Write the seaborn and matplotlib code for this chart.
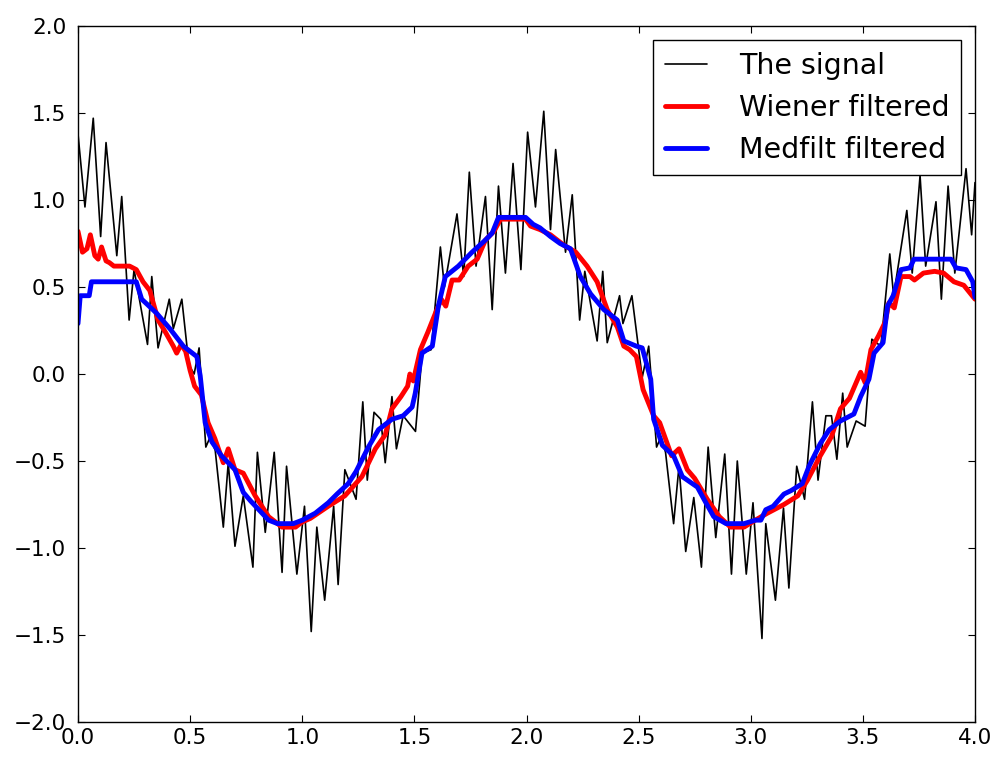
import matplotlib
matplotlib.use("Agg")
import matplotlib.pyplot as plt
import seaborn as sns
import numpy as np

# --- data ---
signal_t = [0.000, 0.031, 0.068, 0.101, 0.125, 0.173, 0.195, 0.228, 0.250, 0.310,
            0.329, 0.357, 0.407, 0.425, 0.463, 0.495, 0.518, 0.540, 0.570, 0.590,
            0.612, 0.648, 0.670, 0.700, 0.737, 0.780, 0.800, 0.835, 0.875, 0.910,
            0.930, 0.976, 1.010, 1.040, 1.065, 1.100, 1.140, 1.160, 1.190, 1.240,
            1.270, 1.290, 1.320, 1.350, 1.370, 1.400, 1.420, 1.450, 1.505, 1.535,
            1.575, 1.616, 1.634, 1.690, 1.720, 1.745, 1.775, 1.817, 1.847, 1.875,
            1.906, 1.940, 1.975, 2.005, 2.040, 2.077, 2.107, 2.130, 2.174, 2.204,
            2.237, 2.260, 2.315, 2.340, 2.360, 2.415, 2.430, 2.470, 2.516, 2.545,
            2.580, 2.600, 2.620, 2.656, 2.680, 2.710, 2.746, 2.780, 2.810, 2.844,
            2.884, 2.914, 2.940, 2.980, 3.010, 3.050, 3.067, 3.110, 3.146, 3.170,
            3.205, 3.240, 3.275, 3.300, 3.335, 3.360, 3.384, 3.410, 3.430, 3.470,
            3.510, 3.540, 3.580, 3.620, 3.637, 3.696, 3.720, 3.755, 3.780, 3.826,
            3.850, 3.880, 3.910, 3.960, 3.985, 4.000]
signal_y = [1.38, 0.96, 1.47, 0.79, 1.33, 0.68, 1.02, 0.31, 0.60, 0.17,
            0.56, 0.15, 0.43, 0.26, 0.43, 0.05, 0.00, 0.15, -0.42, -0.36,
            -0.44, -0.88, -0.51, -0.99, -0.70, -1.11, -0.45, -0.91, -0.45, -1.14,
            -0.53, -1.15, -0.76, -1.48, -0.88, -1.30, -0.76, -1.21, -0.55, -0.72,
            -0.16, -0.61, -0.22, -0.26, -0.51, -0.13, -0.43, -0.24, -0.33, 0.12,
            0.14, 0.73, 0.50, 0.92, 0.56, 1.16, 0.62, 1.02, 0.37, 1.08,
            0.58, 1.21, 0.60, 1.39, 0.96, 1.51, 0.83, 1.29, 0.70, 1.03,
            0.31, 0.59, 0.19, 0.59, 0.18, 0.45, 0.29, 0.45, -0.02, 0.16,
            -0.42, -0.36, -0.45, -0.86, -0.53, -1.02, -0.71, -1.11, -0.42, -0.94,
            -0.46, -1.15, -0.50, -1.15, -0.74, -1.52, -0.86, -1.30, -0.77, -1.23,
            -0.53, -0.72, -0.16, -0.61, -0.24, -0.24, -0.49, -0.11, -0.42, -0.27,
            -0.30, 0.20, 0.16, 0.69, 0.45, 0.94, 0.58, 1.14, 0.62, 0.99,
            0.43, 1.08, 0.58, 1.18, 0.80, 1.10]

wiener_t = [0.000, 0.020, 0.040, 0.055, 0.075, 0.090, 0.105, 0.125, 0.140, 0.160,
            0.230, 0.260, 0.290, 0.320, 0.357, 0.390, 0.425, 0.440, 0.460, 0.480,
            0.500, 0.520, 0.550, 0.580, 0.610, 0.648, 0.670, 0.700, 0.737, 0.790,
            0.850, 0.910, 0.970, 1.000, 1.036, 1.116, 1.190, 1.266, 1.326, 1.370,
            1.400, 1.440, 1.470, 1.480, 1.495, 1.527, 1.560, 1.594, 1.620, 1.640,
            1.668, 1.700, 1.740, 1.780, 1.817, 1.855, 1.884, 1.996, 2.018, 2.060,
            2.107, 2.167, 2.220, 2.270, 2.315, 2.360, 2.405, 2.434, 2.460, 2.490,
            2.520, 2.567, 2.594, 2.647, 2.680, 2.717, 2.750, 2.806, 2.860, 2.910,
            2.970, 3.020, 3.074, 3.148, 3.210, 3.253, 3.310, 3.360, 3.400, 3.440,
            3.470, 3.490, 3.510, 3.536, 3.570, 3.600, 3.616, 3.640, 3.670, 3.710,
            3.730, 3.770, 3.820, 3.860, 3.906, 3.950, 4.000]
wiener_y = [0.82, 0.70, 0.72, 0.80, 0.68, 0.66, 0.73, 0.65, 0.64, 0.62,
            0.62, 0.60, 0.53, 0.48, 0.31, 0.24, 0.16, 0.12, 0.17, 0.13,
            0.02, -0.07, -0.12, -0.28, -0.37, -0.51, -0.43, -0.55, -0.57, -0.70,
            -0.82, -0.88, -0.88, -0.85, -0.83, -0.76, -0.70, -0.59, -0.43, -0.35,
            -0.20, -0.13, -0.07, 0.00, -0.04, 0.14, 0.24, 0.35, 0.43, 0.39,
            0.54, 0.54, 0.62, 0.66, 0.77, 0.82, 0.89, 0.89, 0.85, 0.83,
            0.80, 0.74, 0.70, 0.62, 0.53, 0.37, 0.27, 0.16, 0.14, 0.10,
            -0.09, -0.24, -0.28, -0.47, -0.43, -0.55, -0.60, -0.72, -0.82, -0.88,
            -0.88, -0.84, -0.80, -0.75, -0.70, -0.61, -0.47, -0.36, -0.20, -0.14,
            -0.05, 0.01, -0.05, 0.14, 0.22, 0.30, 0.41, 0.38, 0.56, 0.56,
            0.54, 0.58, 0.59, 0.58, 0.53, 0.51, 0.43]

medfilt_t = [0.000, 0.010, 0.050, 0.060, 0.260, 0.284, 0.350, 0.410, 0.470, 0.530,
             0.545, 0.567, 0.597, 0.640, 0.700, 0.737, 0.770, 0.850, 0.890, 0.960,
             1.000, 1.058, 1.116, 1.155, 1.205, 1.240, 1.295, 1.340, 1.400, 1.450,
             1.490, 1.504, 1.534, 1.580, 1.607, 1.638, 1.696, 1.757, 1.817, 1.847,
             1.875, 1.996, 2.030, 2.060, 2.107, 2.150, 2.196, 2.240, 2.286, 2.345,
             2.405, 2.434, 2.490, 2.516, 2.554, 2.567, 2.606, 2.656, 2.695, 2.762,
             2.800, 2.835, 2.890, 2.970, 3.020, 3.045, 3.067, 3.100, 3.148, 3.180,
             3.230, 3.260, 3.310, 3.350, 3.400, 3.460, 3.490, 3.527, 3.550, 3.590,
             3.610, 3.635, 3.670, 3.710, 3.728, 3.893, 3.915, 3.960, 3.990, 4.000]
medfilt_y = [0.29, 0.45, 0.45, 0.53, 0.53, 0.43, 0.35, 0.26, 0.16, 0.10,
             -0.01, -0.28, -0.39, -0.47, -0.55, -0.68, -0.73, -0.84, -0.86, -0.86,
             -0.84, -0.80, -0.74, -0.69, -0.63, -0.56, -0.42, -0.32, -0.26, -0.24,
             -0.19, -0.11, 0.12, 0.16, 0.39, 0.56, 0.62, 0.70, 0.77, 0.81,
             0.90, 0.90, 0.86, 0.84, 0.79, 0.75, 0.72, 0.56, 0.46, 0.37,
             0.31, 0.19, 0.16, 0.15, -0.03, -0.26, -0.41, -0.47, -0.59, -0.65,
             -0.74, -0.82, -0.86, -0.86, -0.84, -0.84, -0.78, -0.76, -0.69, -0.67,
             -0.63, -0.53, -0.40, -0.32, -0.27, -0.23, -0.13, -0.03, 0.12, 0.18,
             0.39, 0.45, 0.60, 0.61, 0.66, 0.66, 0.61, 0.60, 0.53, 0.44]

x_ticks = [0.0, 0.5, 1.0, 1.5, 2.0, 2.5, 3.0, 3.5, 4.0]
y_ticks = [-2.0, -1.5, -1.0, -0.5, 0.0, 0.5, 1.0, 1.5, 2.0]

sns.set_theme(style="white")
plt.rcParams['font.family'] = ['DejaVu Sans']
plt.rcParams['axes.unicode_minus'] = True
plt.rcParams['text.color'] = 'black'

fig = plt.figure(figsize=(9.98, 7.57), dpi=100)
ax = fig.add_axes([78 / 998, 1 - 722 / 757, (975 - 78) / 998, (722 - 26) / 757])

sns.lineplot(x=signal_t, y=signal_y, ax=ax, color="black", linewidth=1.2,
             sort=False, estimator=None, label="The signal")
sns.lineplot(x=wiener_t, y=wiener_y, ax=ax, color="red", linewidth=3.5,
             sort=False, estimator=None, label="Wiener filtered")
sns.lineplot(x=medfilt_t, y=medfilt_y, ax=ax, color="blue", linewidth=3.5,
             sort=False, estimator=None, label="Medfilt filtered")

ax.set_xlim(0, 4)
ax.set_ylim(-2, 2)
ax.set_xticks(x_ticks)
ax.set_yticks(y_ticks)
ax.set_xticklabels([f"{v:.1f}" for v in x_ticks])
ax.set_yticklabels([f"{v:.1f}".replace("-", "\u2212") for v in y_ticks])
ax.set_xlabel("")
ax.set_ylabel("")

for s in ax.spines.values():
    s.set_visible(True)
    s.set_color("black")
    s.set_linewidth(1.0)

ax.tick_params(axis="both", which="major", direction="in", length=5, width=0.8,
               color="black", labelsize=15.5, labelcolor="black",
               top=True, right=True, bottom=True, left=True)
ax.tick_params(axis="x", pad=4)
ax.tick_params(axis="y", pad=8.5)

leg = ax.legend(loc="upper right", fontsize=20.5, frameon=True, fancybox=False,
                shadow=False, borderaxespad=0.5, handlelength=1.5,
                handletextpad=1.1, labelspacing=0.5, borderpad=0.4)
leg.get_frame().set_edgecolor("black")
leg.get_frame().set_linewidth(1.0)
leg.get_frame().set_alpha(1.0)
for txt in leg.get_texts():
    txt.set_color("black")

fig.savefig("out.png", dpi=100, facecolor="white")
